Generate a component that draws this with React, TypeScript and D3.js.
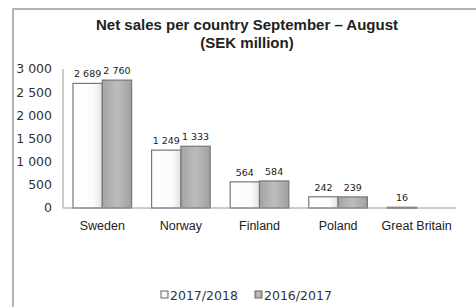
import React from 'react'
import { scaleBand, scaleLinear } from 'd3'

const countries = ['Sweden', 'Norway', 'Finland', 'Poland', 'Great Britain']
const seriesNames = ['2017/2018', '2016/2017']
const sales1718 = [2689, 1249, 564, 242, 16]
const sales1617 = [2760, 1333, 584, 239, null]
const yTicks = [0, 500, 1000, 1500, 2000, 2500, 3000]

const fmt = (v: number) => {
  const s = String(v)
  return s.length > 3 ? s.slice(0, s.length - 3) + ' ' + s.slice(-3) : s
}

const App = () => {
  const width = 476
  const height = 307
  const margin = { top: 69, right: 20, bottom: 99, left: 63 }

  const x = scaleBand<string>()
    .domain(countries)
    .range([margin.left, width - margin.right])
    .padding(0)
  const inner = scaleBand<string>()
    .domain(seriesNames)
    .range([10, x.bandwidth() - 10])
    .padding(0)
  const y = scaleLinear()
    .domain([0, 3000])
    .range([height - margin.bottom, margin.top])

  const series = [
    { name: seriesNames[0], values: sales1718, fill: 'url(#g1)' },
    { name: seriesNames[1], values: sales1617, fill: 'url(#g2)' },
  ]
  const sans = '"DejaVu Sans", Verdana, sans-serif'

  return (
    <svg width={width} height={height} style={{ position: 'absolute', left: 0, top: 0, background: '#fff' }}>
      <defs>
        <linearGradient id="g1" x1="0" x2="1" y1="0" y2="0">
          <stop offset="0" stopColor="#ffffff" />
          <stop offset="0.7" stopColor="#fbfbfb" />
          <stop offset="1" stopColor="#e2e2e2" />
        </linearGradient>
        <linearGradient id="g2" x1="0" x2="1" y1="0" y2="0">
          <stop offset="0" stopColor="#a4a4a4" />
          <stop offset="0.5" stopColor="#bdbdbd" />
          <stop offset="1" stopColor="#a0a0a0" />
        </linearGradient>
      </defs>
      {/* frame */}
      <path d={`M13,${height + 2} V9 H${width + 2}`} fill="none" stroke="#b4b4b4" strokeWidth={2} />

      <text x={247} y={30} textAnchor="middle" fontFamily='"Liberation Sans Narrow", "Liberation Sans", Arial, sans-serif' fontWeight="bold" fontSize={15} fill="#222">
        <tspan x={247}>Net sales per country September – August</tspan>
        <tspan x={247} dy={18}>(SEK million)</tspan>
      </text>

      {/* y axis */}
      <line x1={margin.left} x2={margin.left} y1={y(3000)} y2={y(0)} stroke="#999" />
      {yTicks.map(t => (
        <text key={t} x={52} y={y(t)} dy="0.35em" textAnchor="end" fontFamily={sans} fontSize={12.5} fill="#333">
          {fmt(t)}
        </text>
      ))}

      {/* bars */}
      {series.map(s =>
        countries.map((c, i) => {
          const v = s.values[i]
          if (v == null) return null
          const bx = (x(c) as number) + (inner(s.name) as number)
          const by = y(v)
          return (
            <g key={s.name + c}>
              <rect x={bx} y={by} width={inner.bandwidth()} height={Math.max(1, y(0) - by)} fill={s.fill} stroke="#777" strokeWidth={1.2} />
              <text x={bx + inner.bandwidth() / 2} y={by - 6} textAnchor="middle" fontFamily={sans} fontSize={9.5} fill="#222">
                {fmt(v)}
              </text>
            </g>
          )
        })
      )}

      <line x1={margin.left} x2={width - margin.right} y1={y(0)} y2={y(0)} stroke="#999" />

      {countries.map(c => (
        <text key={c} x={(x(c) as number) + x.bandwidth() / 2} y={230} textAnchor="middle" fontFamily='"Liberation Sans", Arial, sans-serif' fontSize={12.5} fill="#222">
          {c}
        </text>
      ))}

      {/* legend */}
      {series.map((s, i) => (
        <g key={s.name} transform={`translate(${161 + i * 94},291)`}>
          <rect x={0} y={0} width={7} height={7} fill={s.fill} stroke="#666" />
          <text x={9} y={8.5} fontFamily={sans} fontSize={12.5} fill="#333">{s.name}</text>
        </g>
      ))}
    </svg>
  )
}

export default App
